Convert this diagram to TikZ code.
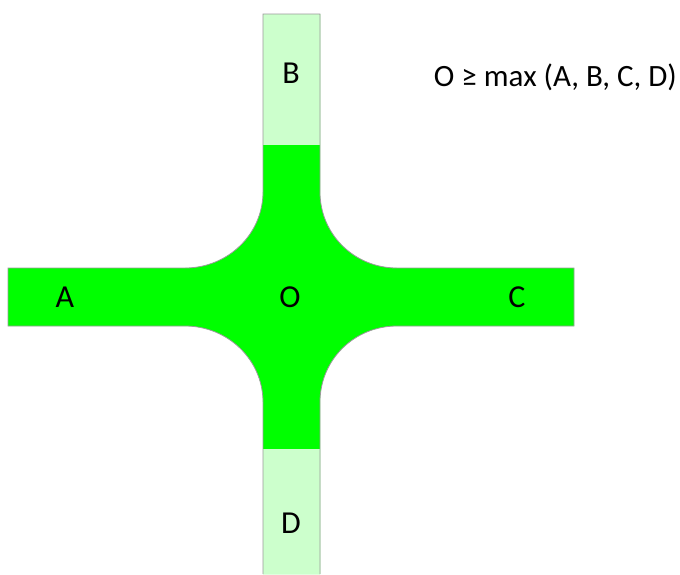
\documentclass[tikz,border=0pt]{standalone}
\usepackage{fontspec}
\setmainfont{Carlito}
\definecolor{brightgreen}{HTML}{00FF00}
\definecolor{palegreen}{HTML}{CCFFCC}
\definecolor{edgegray}{HTML}{9A9A9A}
\begin{document}
\begin{tikzpicture}[x=1pt,y=-1pt,
  outline/.style={draw=edgegray,line width=0.8pt},
  lbl/.style={inner sep=0pt,anchor=base,font=\fontsize{32}{38}\selectfont}]
\useasboundingbox (0,0) rectangle (680,574);
% cross body
\fill[brightgreen] (263,14) -- (263,192) .. controls (263,234) and (228,268) .. (185,268)
  -- (8,268) -- (8,326) -- (185,326) .. controls (228,326) and (263,360) .. (263,402)
  -- (263,574) -- (320,574) -- (320,402) .. controls (320,360) and (354,326) .. (397,326)
  -- (574,326) -- (574,268) -- (397,268) .. controls (354,268) and (320,234) .. (320,192)
  -- (320,14) -- cycle;
% light ends
\fill[palegreen] (263,14) rectangle (320,145);
\fill[palegreen] (263,449) rectangle (320,574);
% outline
\draw[outline] (263,574) -- (263,402) .. controls (263,360) and (228,326) .. (185,326)
  -- (8,326) -- (8,268) -- (185,268) .. controls (228,268) and (263,234) .. (263,192)
  -- (263,14) -- (320,14) -- (320,192) .. controls (320,234) and (354,268) .. (397,268)
  -- (574,268) -- (574,326) -- (397,326) .. controls (354,326) and (320,360) .. (320,402)
  -- (320,574);
% labels
\node[lbl] (A) at (65,307) {A};
\node[lbl] (O) at (290,307) {O};
\node[lbl] (C) at (517,307) {C};
\node[lbl] (B) at (291,83) {B};
\node[lbl] (D) at (291,533) {D};
\node[lbl,anchor=base east,font=\fontsize{31}{37}\selectfont] (F) at (677,86) {O ≥ max (A, B, C, D)};
\end{tikzpicture}
\end{document}
